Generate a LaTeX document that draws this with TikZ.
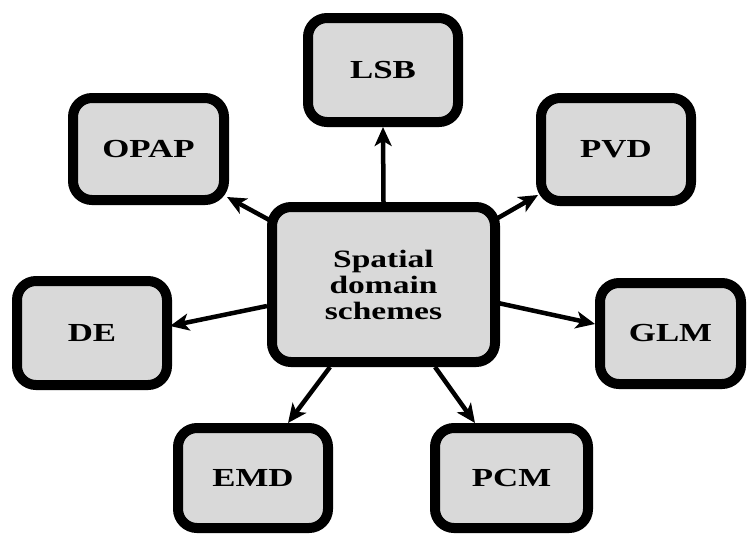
\documentclass[tikz,border=0pt]{standalone}
\usepackage{fontspec}
\setmainfont[FakeStretch=1.34]{Liberation Serif}
\usetikzlibrary{arrows.meta,calc,shadows}
\definecolor{boxgray}{RGB}{217,217,217}
\begin{document}
\begin{tikzpicture}[x=1pt,y=-1pt,
  schemebox/.style={draw=black, fill=boxgray, line width=10pt, rounded corners=19pt,
    font=\fontsize{26}{28}\selectfont\bfseries, align=center, inner sep=0pt,
    drop shadow={opacity=0.15, shadow xshift=1.5pt, shadow yshift=-2.5pt}},
  arr/.style={draw=black, line width=4.5pt, -{Stealth[length=19pt,width=17pt,inset=5pt]}}
]
\useasboundingbox (0,0) rectangle (747,533);
\node[schemebox, minimum width=223pt, minimum height=155pt,
  font=\fontsize{25}{26}\selectfont\bfseries] (c) at (383.5,284.5) {Spatial\\domain\\schemes};
\node[schemebox, minimum width=150pt, minimum height=104pt] (lsb) at (383,70) {LSB};
\node[schemebox, minimum width=151pt, minimum height=102pt] (opap) at (148.5,149) {OPAP};
\node[schemebox, minimum width=150pt, minimum height=103pt] (pvd) at (616,149.5) {PVD};
\node[schemebox, minimum width=150pt, minimum height=104pt] (de) at (92,333) {DE};
\node[schemebox, minimum width=141pt, minimum height=101pt] (glm) at (670.5,333.5) {GLM};
\node[schemebox, minimum width=150pt, minimum height=100pt] (emd) at (253,478) {EMD};
\node[schemebox, minimum width=153pt, minimum height=100pt] (pcm) at (511.5,478) {PCM};
\draw[arr] (c.north) -- (lsb.south);
\draw[arr] ($(c.north west)+(6,20)$) -- ($(opap.south east)+(-2,-8)$);
\draw[arr] ($(c.north east)+(-9,20)$) -- ($(pvd.south west)+(2,-11)$);
\draw[arr] ($(c.north west)+(0,104)$) -- ($(de.east)+(-2,-7)$);
\draw[arr] ($(c.north east)+(-2,101)$) -- ($(glm.west)+(0,-9.5)$);
\draw[arr] ($(c.south west)+(63,0)$) -- ($(emd.north west)+(115,0)$);
\draw[arr] ($(c.south west)+(168,0)$) -- ($(pcm.north west)+(45,0)$);
\end{tikzpicture}
\end{document}
